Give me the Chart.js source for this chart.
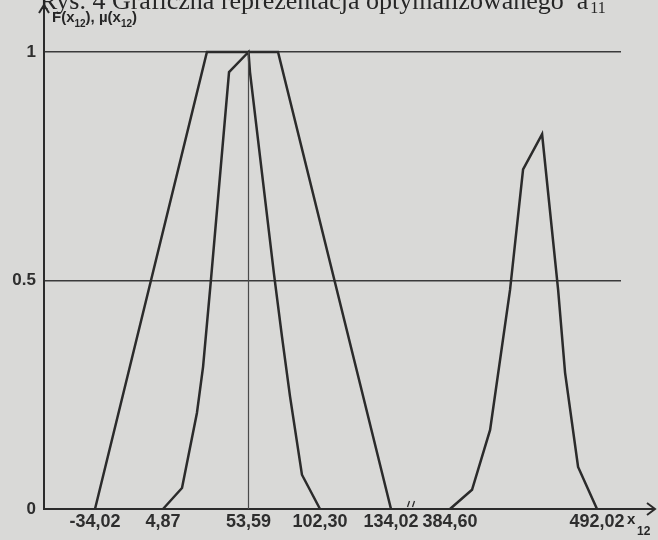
<!DOCTYPE html>
<html>
<head>
<meta charset="utf-8">
<script src="https://cdn.jsdelivr.net/npm/chart.js@4/dist/chart.umd.min.js"></script>
<style>
  body { margin: 0; background: #d9d9d7; }
  #wrap { width: 658px; height: 540px; }
</style>
</head>
<body>
<div id="wrap"><canvas id="chart" width="658" height="540"></canvas></div>
<script>
// tick values of x12 and their labels (the axis is broken between 134,02 and 384,60)
const tickValues = [-34.02, 4.87, 53.59, 102.30, 134.02, 384.60, 492.02];
const tickLabels = ['-34,02', '4,87', '53,59', '102,30', '134,02', '384,60', '492,02'];
// where each tick sits along the drawn (non-uniform, broken) axis
const tickSlots = [51, 119, 204.5, 276, 347, 406, 553];

const yTicks = [0, 0.5, 1];
const yTickLabels = ['0', '0.5', '1'];

// F(x12) - trapezoid
const fX = [-34.02, 29.9, 73.7, 134.02];
const fY = [0, 1, 1, 0];

// mu(x12) - first curve
const mu1X = [4.87, 15.7, 24.2, 27.7, 32.2, 42.5, 53.59, 54.6, 71.0, 76.4, 81.9, 90.0, 102.30];
const mu1Y = [0, 0.046, 0.21, 0.311, 0.502, 0.956, 1, 0.956, 0.513, 0.377, 0.246, 0.075, 0];

// mu(x12) - second curve
const mu2X = [384.60, 400.7, 413.9, 428.5, 438.0, 451.9, 463.6, 468.7, 478.2, 492.02];
const mu2Y = [0, 0.042, 0.173, 0.48, 0.743, 0.82, 0.48, 0.298, 0.092, 0];

// marker at the optimum
const optX = [53.59, 53.59];
const optY = [0, 1];

const ink = '#2b2b2b';

function toAxis(v) {
    for (let i = 0; i < tickValues.length - 1; i++) {
        if (v <= tickValues[i + 1] || i == tickValues.length - 2) {
            const t = (v - tickValues[i]) / (tickValues[i + 1] - tickValues[i]);
            return tickSlots[i] + t * (tickSlots[i + 1] - tickSlots[i]);
        }
    }
}

function points(xs, ys) {
    return xs.map((x, i) => ({ x: toAxis(x), y: ys[i] }));
}

function line(data, width, color) {
    return {
        data: data,
        borderColor: color,
        borderWidth: width,
        pointRadius: 0,
        tension: 0,
        fill: false,
        clip: false
    };
}

const decorations = {
    id: 'decorations',
    afterDraw(chart) {
        const ctx = chart.ctx;
        const a = chart.chartArea;
        const xs = chart.scales.x;
        ctx.save();
        ctx.strokeStyle = ink;
        ctx.fillStyle = '#262626';
        ctx.lineWidth = 2;

        // y axis going up with arrow
        ctx.beginPath();
        ctx.moveTo(a.left, a.top);
        ctx.lineTo(a.left, 6);
        ctx.moveTo(a.left - 5, 13);
        ctx.lineTo(a.left, 5);
        ctx.lineTo(a.left + 5, 13);
        ctx.stroke();

        // x axis continued with arrow
        ctx.beginPath();
        ctx.moveTo(a.right, a.bottom);
        ctx.lineTo(655, a.bottom);
        ctx.moveTo(647, a.bottom - 6);
        ctx.lineTo(655, a.bottom);
        ctx.lineTo(647, a.bottom + 6);
        ctx.stroke();

        // axis break marks
        const bx = (xs.getPixelForValue(tickSlots[4]) + xs.getPixelForValue(tickSlots[5])) / 2 - 10;
        ctx.lineWidth = 1.3;
        ctx.beginPath();
        ctx.moveTo(bx - 3, a.bottom - 2); ctx.lineTo(bx - 1, a.bottom - 8);
        ctx.moveTo(bx + 2, a.bottom - 2); ctx.lineTo(bx + 4, a.bottom - 8);
        ctx.stroke();

        // figure caption, cut at the top of the page
        const caption = 'Rys. 4 Graficzna reprezentacja optymalizowanego  ã';
        ctx.font = '26px "Liberation Serif", serif';
        ctx.textBaseline = 'alphabetic';
        ctx.fillText(caption, 40, 9);
        const cw = ctx.measureText(caption).width;
        ctx.font = '16px "Liberation Serif", serif';
        ctx.fillText('11', 40 + cw + 2, 13);

        // y label F(x12), mu(x12)
        let x = 52;
        const parts = [['F(x', 0], ['12', 1], ['), \u00b5(x', 0], ['12', 1], [')', 0]];
        parts.forEach(([s, sub]) => {
            ctx.font = sub ? 'bold 10px "Liberation Sans", sans-serif' : 'bold 15px "Liberation Sans Narrow", "Liberation Sans", sans-serif';
            ctx.fillText(s, x, sub ? 27 : 22);
            x += ctx.measureText(s).width;
        });

        // x12 label
        ctx.font = 'bold 15px "Liberation Sans", sans-serif';
        ctx.fillText('x', 627, 524);
        ctx.font = 'bold 12px "Liberation Sans", sans-serif';
        ctx.fillText('12', 637, 535);
        ctx.restore();
    }
};

Chart.defaults.font.family = '"Liberation Sans", Arial, sans-serif';

new Chart('chart', {
    type: 'line',
    data: {
        datasets: [
            line(points(optX, optY), 1.2, '#4a4a4a'),
            line(points(fX, fY), 2.5, ink),
            line(points(mu1X, mu1Y), 2.5, ink),
            line(points(mu2X, mu2Y), 2.5, ink)
        ]
    },
    options: {
        responsive: false,
        animation: false,
        layout: { padding: { top: 52, right: 37, left: 0, bottom: 0 } },
        plugins: { legend: { display: false }, tooltip: { enabled: false } },
        scales: {
            x: {
                type: 'linear',
                min: 0,
                max: 577,
                afterFit(s) { s.height = 31; },
                afterBuildTicks(s) { s.ticks = tickSlots.map(v => ({ value: v })); },
                grid: { display: false, drawTicks: false },
                border: { display: true, color: ink, width: 2 },
                ticks: {
                    autoSkip: false,
                    maxRotation: 0,
                    padding: 2,
                    color: '#2e2e2e',
                    font: { size: 18, weight: 'bold' },
                    callback: (v, i) => tickLabels[i]
                }
            },
            y: {
                min: 0,
                max: 1,
                afterFit(s) { s.width = 44; },
                afterBuildTicks(s) { s.ticks = yTicks.map(v => ({ value: v })); },
                grid: { color: '#3a3a3a', lineWidth: 1.5, drawTicks: false },
                border: { display: true, color: ink, width: 2 },
                ticks: {
                    padding: 8,
                    color: '#2e2e2e',
                    font: { size: 17, weight: 'bold' },
                    callback: (v, i) => yTickLabels[i]
                }
            }
        }
    },
    plugins: [decorations]
});
</script>
</body>
</html>
